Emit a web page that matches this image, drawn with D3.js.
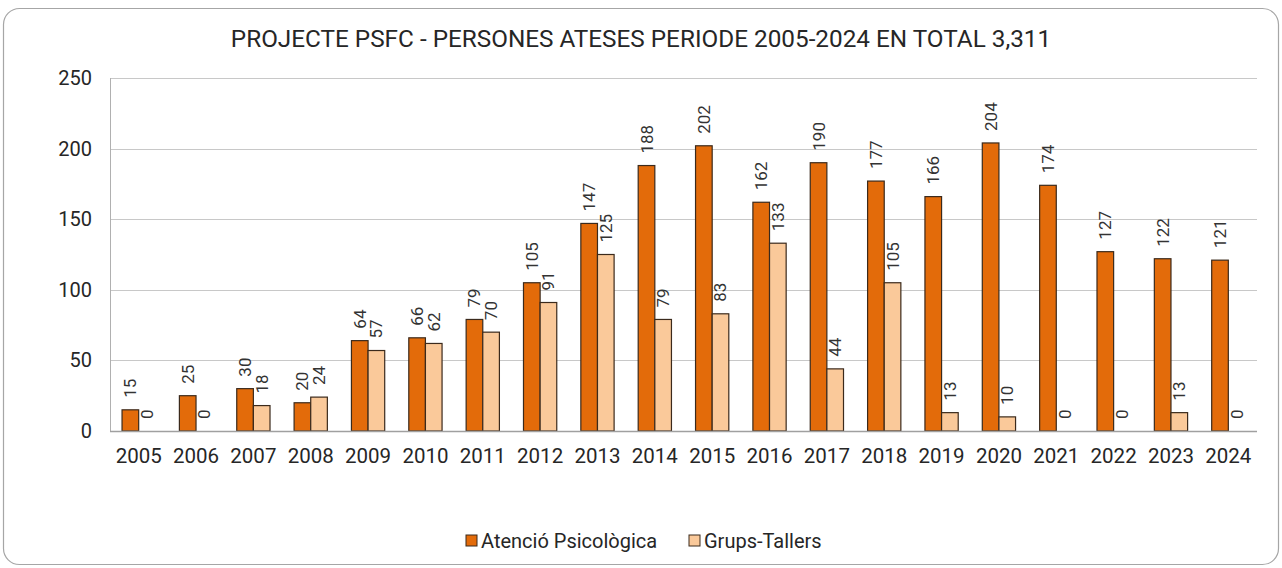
<!DOCTYPE html>
<html>
<head>
<meta charset="utf-8">
<script src="https://cdn.jsdelivr.net/npm/d3@7"></script>
<style>
  body { margin: 0; background: #fff; }
  svg { display: block; font-family: Roboto, "Noto Sans", sans-serif; }
</style>
</head>
<body>
<svg id="chart" width="1282" height="568"></svg>
<script>
var years = ['2005', '2006', '2007', '2008', '2009', '2010', '2011', '2012', '2013', '2014',
             '2015', '2016', '2017', '2018', '2019', '2020', '2021', '2022', '2023', '2024'];
var atencio = [15, 25, 30, 20, 64, 66, 79, 105, 147, 188, 202, 162, 190, 177, 166, 204, 174, 127, 122, 121];
var grups = [0, 0, 18, 24, 57, 62, 70, 91, 125, 79, 83, 133, 44, 105, 13, 10, 0, 0, 13, 0];
var seriesNames = ['Atenció Psicològica', 'Grups-Tallers'];
var yTicks = [0, 50, 100, 150, 200, 250];
var titleText = 'PROJECTE PSFC - PERSONES ATESES PERIODE 2005-2024 EN TOTAL 3,311';

var colors = ['#E36B0A', '#FAC99A'];
var W = 1282, H = 568;
var margin = {left: 110, right: 25, top: 78, bottom: 137};

var svg = d3.select('#chart');

// outer frame
svg.append('rect')
    .attr('x', 3.5).attr('y', 8.5)
    .attr('width', 1275).attr('height', 556)
    .attr('rx', 16).attr('ry', 16)
    .attr('fill', '#fff')
    .attr('stroke', '#a6a6a6')
    .attr('stroke-width', 1.2);

svg.append('text')
    .attr('x', 641).attr('y', 47)
    .attr('text-anchor', 'middle')
    .attr('font-size', 24.3)
    .attr('fill', '#262626')
    .text(titleText);

var x0 = d3.scaleBand()
    .domain(years)
    .range([margin.left, W - margin.right])
    .paddingInner(0.42)
    .paddingOuter(0.21);

var x1 = d3.scaleBand()
    .domain([0, 1])
    .range([0, x0.bandwidth()]);

var y = d3.scaleLinear()
    .domain([0, 250])
    .range([H - margin.bottom, margin.top]);

// gridlines
svg.append('g')
    .selectAll('line')
    .data(yTicks.filter(function(d) { return d > 0; }))
    .enter().append('line')
    .attr('x1', margin.left).attr('x2', W - margin.right)
    .attr('y1', function(d) { return Math.round(y(d)) + 0.5; })
    .attr('y2', function(d) { return Math.round(y(d)) + 0.5; })
    .attr('stroke', '#c8c8c8')
    .attr('stroke-width', 1);

// left axis line
svg.append('line')
    .attr('x1', margin.left + 0.5).attr('x2', margin.left + 0.5)
    .attr('y1', y(250)).attr('y2', y(0))
    .attr('stroke', '#b0b0b0');

// y tick labels
svg.append('g')
    .selectAll('text')
    .data(yTicks)
    .enter().append('text')
    .attr('x', 92)
    .attr('y', function(d) { return y(d) + 7; })
    .attr('text-anchor', 'end')
    .attr('font-size', 20)
    .attr('fill', '#262626')
    .text(function(d) { return d; });

var rows = years.map(function(yr, i) {
  return {year: yr, vals: [atencio[i], grups[i]]};
});

var groups = svg.append('g')
    .selectAll('g')
    .data(rows)
    .enter().append('g')
    .attr('transform', function(d) { return 'translate(' + x0(d.year) + ',0)'; });

groups.each(function(d) {
  var g = d3.select(this);
  d.vals.forEach(function(v, s) {
    if (v > 0) {
      g.append('rect')
          .attr('x', x1(s))
          .attr('y', y(v))
          .attr('width', x1.bandwidth())
          .attr('height', y(0) - y(v))
          .attr('fill', colors[s])
          .attr('stroke', '#3b2a1c')
          .attr('stroke-width', 1.2);
    }
    var lx = x1(s) + x1.bandwidth() / 2 + 6;
    var ly = y(v) - 12;
    g.append('text')
        .attr('transform', 'translate(' + lx + ',' + ly + ') rotate(-90)')
        .attr('font-size', 17)
        .attr('fill', '#333')
        .text(v);
  });
});

// x axis line
svg.append('line')
    .attr('x1', margin.left).attr('x2', W - margin.right)
    .attr('y1', y(0) + 0.5).attr('y2', y(0) + 0.5)
    .attr('stroke', '#a0a0a0')
    .attr('stroke-width', 1.5);

// x labels
svg.append('g')
    .selectAll('text')
    .data(years)
    .enter().append('text')
    .attr('x', function(d) { return x0(d) + x0.bandwidth() / 2; })
    .attr('y', y(0) + 32)
    .attr('text-anchor', 'middle')
    .attr('font-size', 20.5)
    .attr('fill', '#262626')
    .text(function(d) { return d; });

// legend
var legendX = [466, 689];
var legend = svg.append('g');
seriesNames.forEach(function(name, s) {
  legend.append('rect')
      .attr('x', legendX[s]).attr('y', 535)
      .attr('width', 11).attr('height', 11)
      .attr('fill', colors[s])
      .attr('stroke', '#3b2a1c')
      .attr('stroke-width', 1);
  legend.append('text')
      .attr('x', legendX[s] + 15).attr('y', 548)
      .attr('font-size', 20)
      .attr('fill', '#262626')
      .text(name);
});
</script>
</body>
</html>
